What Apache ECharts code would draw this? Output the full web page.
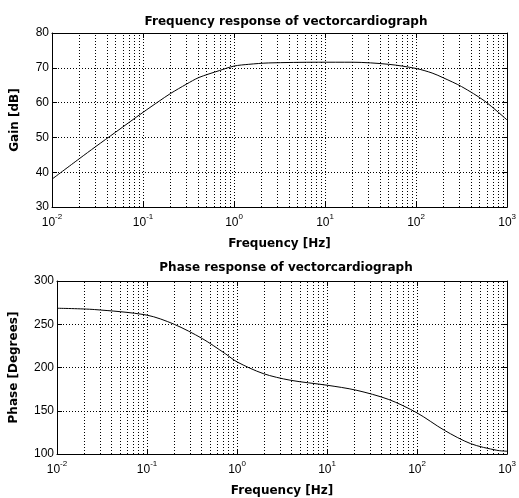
<!DOCTYPE html>
<html>
<head>
<meta charset="utf-8">
<script src="https://cdn.jsdelivr.net/npm/echarts@6/dist/echarts.min.js"></script>
<style>
  html, body { margin: 0; padding: 0; background: #fff; }
  #chart { width: 519px; height: 498px; }
</style>
</head>
<body>
<div id="chart"></div>
<script>
// values
var freqGain = [0.01, 0.02, 0.03, 0.05, 0.1, 0.15, 0.2, 0.3, 0.41, 0.69, 1, 1.45, 2.4, 8.5, 20, 50, 100, 150, 200, 316, 570, 1000];
var gainDb = [38, 43.9, 47.3, 51.5, 57.2, 60.4, 62.6, 65.3, 67.2, 69.2, 70.5, 71.0, 71.4, 71.6, 71.6, 71.0, 69.8, 68.5, 67.1, 64.6, 60.4, 55.0];

var freqPhase = [0.01, 0.026, 0.1, 0.2, 0.41, 0.74, 1, 1.95, 3.9, 10, 21, 48.5, 100, 201, 393, 767, 1000];
var phaseDeg = [268.5, 267.0, 260.5, 250, 233.5, 216, 206.5, 193, 185.3, 179.5, 173.8, 163, 147.5, 127.4, 112, 104.3, 103.2];

var yTicksGain = { min: 30, max: 80, step: 10 };
var yTicksPhase = { min: 100, max: 300, step: 50 };

// minor log grid positions (2..9 per decade)
var minorFreqs = [];
for (var k = -2; k <= 2; k++) {
  for (var m = 2; m <= 9; m++) {
    minorFreqs.push(m * Math.pow(10, k));
  }
}

var FONT = 'Liberation Sans, Arial, sans-serif';
var BOLD = 'DejaVu Sans, sans-serif';
var dotted = { color: '#000', width: 1, type: [1, 2] };

function pairs(xs, ys) {
  return xs.map(function (x, i) { return [x, ys[i]]; });
}

function xAxisFor(gridIndex, withLabels) {
  return {
    type: 'log',
    logBase: 10,
    gridIndex: gridIndex,
    min: 0.01,
    max: 1000,
    name: withLabels ? 'Frequency [Hz]' : '',
    nameLocation: 'middle',
    nameGap: 31,
    nameTextStyle: { fontFamily: BOLD, fontWeight: 'bold', fontSize: 12, color: '#000' },
    position: withLabels ? 'bottom' : 'top',
    axisLine: { show: true, lineStyle: { color: '#000' } },
    axisTick: { show: true, inside: true, length: 5, lineStyle: { color: '#000' } },
    axisLabel: {
      show: withLabels,
      margin: 6,
      fontFamily: FONT,
      fontSize: 12,
      color: '#000',
      formatter: function (v) {
        return '{b|10}{s|' + Math.round(Math.log10(v)) + '}';
      },
      rich: {
        b: { fontFamily: FONT, fontSize: 12, color: '#000', lineHeight: 16, verticalAlign: 'bottom' },
        s: { fontFamily: FONT, fontSize: 8, color: '#000', lineHeight: 16, verticalAlign: 'top', padding: [0, 0, 7, 0] }
      }
    },
    splitLine: { show: withLabels, lineStyle: dotted }
  };
}

function yAxisFor(gridIndex, ticks, name, gap, withLabels) {
  return {
    type: 'value',
    gridIndex: gridIndex,
    min: ticks.min,
    max: ticks.max,
    interval: ticks.step,
    position: withLabels ? 'left' : 'right',
    name: withLabels ? name : '',
    nameLocation: 'middle',
    nameGap: gap,
    nameTextStyle: { fontFamily: BOLD, fontWeight: 'bold', fontSize: 12, color: '#000' },
    axisLine: { show: true, lineStyle: { color: '#000' } },
    axisTick: { show: true, inside: true, length: 5, lineStyle: { color: '#000' } },
    axisLabel: { show: withLabels, margin: 3, fontFamily: FONT, fontSize: 12, color: '#000' },
    splitLine: { show: withLabels, lineStyle: dotted }
  };
}

function minorLines() {
  return {
    silent: true,
    symbol: 'none',
    label: { show: false },
    lineStyle: dotted,
    animation: false,
    data: minorFreqs.map(function (f) { return { xAxis: f }; })
  };
}

var chart = echarts.init(document.getElementById('chart'));
chart.setOption({
  backgroundColor: '#fff',
  animation: false,
  title: [
    { text: 'Frequency response of vectorcardiograph', left: 281, top: 11, textAlign: 'center',
      textStyle: { fontFamily: BOLD, fontWeight: 'bold', fontSize: 12, color: '#000' } },
    { text: 'Phase response of vectorcardiograph', left: 281, top: 257, textAlign: 'center',
      textStyle: { fontFamily: BOLD, fontWeight: 'bold', fontSize: 12, color: '#000' } }
  ],
  grid: [
    { left: 52, right: 8, top: 33, height: 174 },
    { left: 52, right: 8, top: 281, height: 173 }
  ],
  xAxis: [xAxisFor(0, true), xAxisFor(0, false), xAxisFor(1, true), xAxisFor(1, false)],
  yAxis: [
    yAxisFor(0, yTicksGain, 'Gain [dB]', 31, true),
    yAxisFor(0, yTicksGain, '', 0, false),
    yAxisFor(1, yTicksPhase, 'Phase [Degrees]', 37, true),
    yAxisFor(1, yTicksPhase, '', 0, false)
  ],
  series: [
    {
      type: 'line', xAxisIndex: 0, yAxisIndex: 0,
      data: pairs(freqGain, gainDb), smooth: 0.3, showSymbol: false,
      lineStyle: { color: '#000', width: 1 },
      markLine: minorLines()
    },
    {
      type: 'line', xAxisIndex: 2, yAxisIndex: 2,
      data: pairs(freqPhase, phaseDeg), smooth: 0.3, showSymbol: false,
      lineStyle: { color: '#000', width: 1 },
      markLine: minorLines()
    }
  ]
});
</script>
</body>
</html>
